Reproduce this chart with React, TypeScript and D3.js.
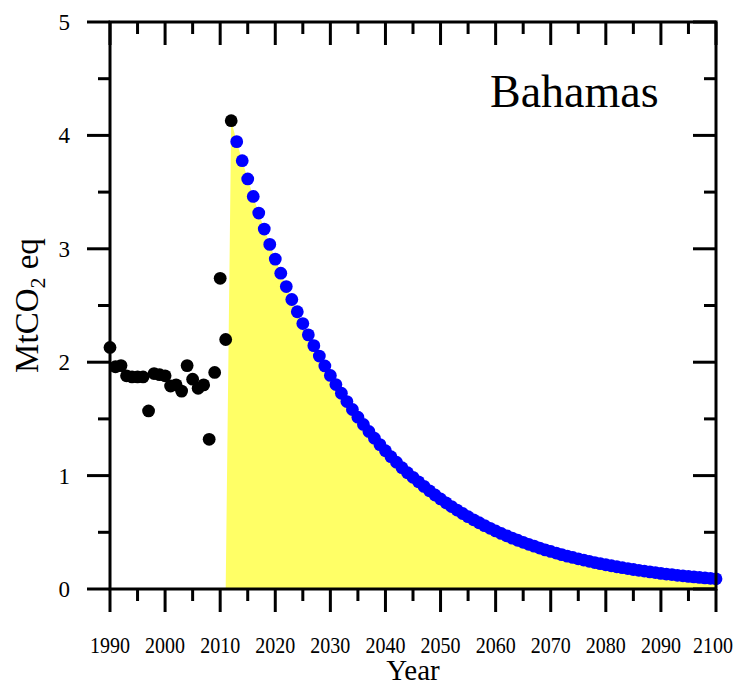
import React from 'react';
import { scaleLinear, area as d3Area, range } from 'd3';

// historical emissions 1990–2012 (MtCO2 eq)
const histYears = range(1990, 2013);
const histValues = [
  2.13, 1.96, 1.97, 1.88, 1.87, 1.87, 1.87, 1.57, 1.9, 1.89, 1.88, 1.79,
  1.8, 1.745, 1.97, 1.85, 1.77, 1.8, 1.32, 1.91, 2.74, 2.2, 4.13,
];

// projected pathway 2013–2100
const projYears = range(2013, 2101);
const projValues = [
  3.945, 3.777, 3.616, 3.462, 3.315, 3.174, 3.039, 2.909, 2.785, 2.667,
  2.553, 2.445, 2.341, 2.241, 2.146, 2.054, 1.967, 1.883, 1.803, 1.726,
  1.653, 1.583, 1.515, 1.451, 1.389, 1.33, 1.273, 1.219, 1.167, 1.118,
  1.07, 1.025, 0.985, 0.945, 0.905, 0.866, 0.829, 0.794, 0.76, 0.727,
  0.696, 0.666, 0.638, 0.61, 0.584, 0.559, 0.535, 0.512, 0.49, 0.469,
  0.449, 0.43, 0.412, 0.394, 0.378, 0.361, 0.345, 0.331, 0.317, 0.303,
  0.29, 0.278, 0.266, 0.255, 0.244, 0.233, 0.223, 0.214, 0.205, 0.196,
  0.188, 0.18, 0.172, 0.165, 0.158, 0.151, 0.145, 0.138, 0.132, 0.127,
  0.121, 0.116, 0.111, 0.107, 0.102, 0.098, 0.094, 0.09,
];

const xTickLabels = range(1990, 2101, 10);
const yTickLabels = [0, 1, 2, 3, 4, 5];

const W = 739;
const H = 686;
const margin = { top: 22, right: 23, bottom: 97, left: 110 };

export default function App() {
  const x = scaleLinear().domain([1990, 2100]).range([margin.left, W - margin.right]);
  const y = scaleLinear().domain([0, 5]).range([H - margin.bottom, margin.top]);

  const [x0, x1] = x.range();
  const [yb, yt] = y.range();

  // shaded budget: from 2011 baseline up to the 2012 point, then the pathway
  const shade: [number, number][] = [
    [2011, 0],
    [2012, histValues[histValues.length - 1]],
    ...projYears.map((yr, i) => [yr, projValues[i]] as [number, number]),
  ];
  const shadePath =
    d3Area<[number, number]>()
      .x((d) => x(d[0]))
      .y0(y(0))
      .y1((d) => y(d[1]))(shade) || '';

  const major = 23;
  const minor = 12;
  const sw = 3;

  const xMajor = range(1990, 2101, 10);
  const xMinor = range(1995, 2100, 10);
  const yMajor = range(0, 5.01, 1);
  const yMinor = range(0.5, 5, 1);

  const font = '"Liberation Serif", "Times New Roman", serif';
  const r = 6.4;

  return (
    <div style={{ position: 'absolute', left: 0, top: 0, width: W, height: H, background: '#fff' }}>
      <svg width={W} height={H} viewBox={`0 0 ${W} ${H}`} style={{ display: 'block' }}>
        <path d={shadePath} fill="#ffff66" />

        {projYears.map((yr, i) => (
          <circle key={`p${yr}`} cx={x(yr)} cy={y(projValues[i])} r={r} fill="#0000ff" />
        ))}
        {histYears.map((yr, i) => (
          <circle key={`h${yr}`} cx={x(yr)} cy={y(histValues[i])} r={r} fill="#000" />
        ))}

        {/* frame */}
        <rect x={x0} y={yt} width={x1 - x0} height={yb - yt} fill="none" stroke="#000" strokeWidth={sw} />

        {/* bottom ticks (outward) and top ticks (inward) */}
        {xMajor.map((t) => (
          <g key={`xm${t}`} stroke="#000" strokeWidth={sw}>
            <line x1={x(t)} x2={x(t)} y1={yb} y2={yb + major} />
            <line x1={x(t)} x2={x(t)} y1={yt} y2={yt + major} />
          </g>
        ))}
        {xMinor.map((t) => (
          <g key={`xn${t}`} stroke="#000" strokeWidth={sw}>
            <line x1={x(t)} x2={x(t)} y1={yb} y2={yb + minor} />
            <line x1={x(t)} x2={x(t)} y1={yt} y2={yt + minor} />
          </g>
        ))}

        {/* left ticks (outward) and right ticks (inward) */}
        {yMajor.map((t) => (
          <g key={`ym${t}`} stroke="#000" strokeWidth={sw}>
            <line x1={x0 - major} x2={x0} y1={y(t)} y2={y(t)} />
            <line x1={x1 - major} x2={x1} y1={y(t)} y2={y(t)} />
          </g>
        ))}
        {yMinor.map((t) => (
          <g key={`yn${t}`} stroke="#000" strokeWidth={sw}>
            <line x1={x0 - minor} x2={x0} y1={y(t)} y2={y(t)} />
            <line x1={x1 - minor} x2={x1} y1={y(t)} y2={y(t)} />
          </g>
        ))}

        {/* tick labels */}
        {xTickLabels.map((t) => (
          <text
            key={`xl${t}`}
            x={Math.min(x(t), W - 26)}
            y={653}
            textAnchor="middle"
            fontFamily={font}
            fontSize={24}
            textLength={40}
            lengthAdjust="spacingAndGlyphs"
          >
            {t}
          </text>
        ))}
        {yTickLabels.map((t) => (
          <text key={`yl${t}`} x={70} y={y(t) + 8} textAnchor="end" fontFamily={font} fontSize={23}>
            {t}
          </text>
        ))}

        {/* axis titles */}
        <text x={(x0 + x1) / 2} y={680} textAnchor="middle" fontFamily={font} fontSize={29}>
          Year
        </text>
        <text
          transform={`translate(38, ${(yb + yt) / 2}) rotate(-90)`}
          textAnchor="middle"
          fontFamily={font}
          fontSize={33}
        >
          MtCO<tspan fontSize={22} dy={7}>2</tspan>
          <tspan dy={-7}> eq</tspan>
        </text>

        <text x={490} y={107} fontFamily={font} fontSize={46}>
          Bahamas
        </text>
      </svg>
    </div>
  );
}
